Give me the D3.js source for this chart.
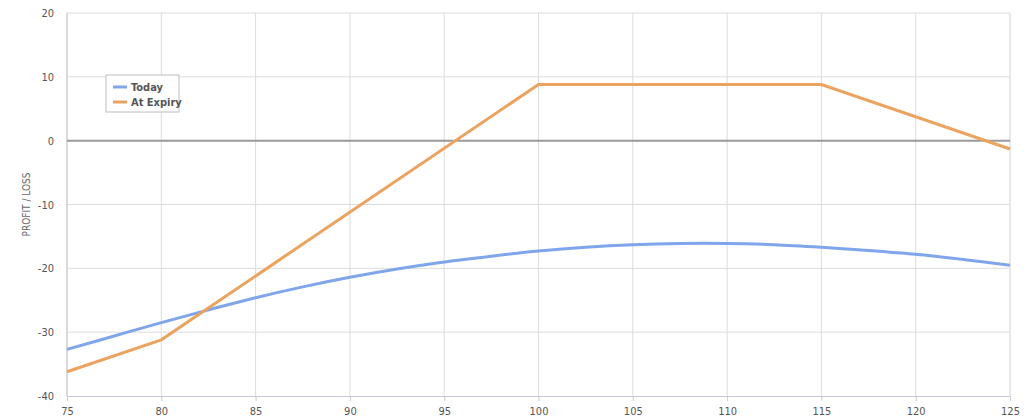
<!DOCTYPE html>
<html><head><meta charset="utf-8">
<script src="https://cdn.jsdelivr.net/npm/d3@7"></script>
<style>
html,body{margin:0;padding:0;background:#fff;}
text{font-family:"DejaVu Sans Condensed","Liberation Sans Narrow",Roboto,sans-serif;}
</style></head>
<body><svg id="c" width="1024" height="420"></svg>
<script>
const xTicks = [75, 80, 85, 90, 95, 100, 105, 110, 115, 120, 125];
const yTicks = [-40, -30, -20, -10, 0, 10, 20];
const todayX = [75, 77.5, 80, 82.5, 85, 87.5, 90, 92.5, 95, 97.5, 100, 102.5, 105, 107.5, 110, 112.5, 115, 117.5, 120, 122.5, 125];
const todayY = [-32.7, -30.6, -28.5, -26.5, -24.6, -22.9, -21.4, -20.1, -19.0, -18.1, -17.3, -16.7, -16.3, -16.1, -16.1, -16.3, -16.7, -17.2, -17.8, -18.6, -19.5];
const expiryX = [75, 80, 100, 115, 125];
const expiryY = [-36.2, -31.2, 8.8, 8.8, -1.3];
const seriesNames = ["Today", "At Expiry"];
const colors = ["#7fa6ea", "#eba35f"];

const svg = d3.select("#c");
const m = {l:67, r:1010, t:13, b:396};
const x = d3.scaleLinear().domain([75,125]).range([m.l, m.r]);
const y = d3.scaleLinear().domain([-40,20]).range([m.b, m.t]);

// vertical grid
svg.append("g").selectAll("line").data(xTicks).join("line")
  .attr("x1", d=>x(d)).attr("x2", d=>x(d)).attr("y1", m.t).attr("y2", m.b)
  .attr("stroke", "#dcdcdc").attr("stroke-width", 1);
// horizontal grid
svg.append("g").selectAll("line").data(yTicks.filter(d=>d!==0 && d!==-40)).join("line")
  .attr("x1", m.l).attr("x2", m.r).attr("y1", d=>y(d)).attr("y2", d=>y(d))
  .attr("stroke", "#dcdcdc").attr("stroke-width", 1);
// left axis line
svg.append("line").attr("x1", m.l).attr("x2", m.l).attr("y1", m.t).attr("y2", m.b)
  .attr("stroke", "#d9d9d9").attr("stroke-width", 2);
// right edge
svg.append("line").attr("x1", m.r).attr("x2", m.r).attr("y1", m.t).attr("y2", m.b)
  .attr("stroke", "#e3e3e3").attr("stroke-width", 1);

// x axis
const xa = svg.append("g").attr("transform", `translate(0,${m.b})`)
  .call(d3.axisBottom(x).tickValues(xTicks).tickFormat(d=>String(d)).tickSize(5).tickSizeOuter(0).tickPadding(6));
xa.select(".domain").attr("stroke", "#c5cad6");
xa.selectAll(".tick line").attr("stroke", "#c5cad6");
xa.selectAll("text").attr("fill", "#555").attr("font-size", 11);

// y axis
const ya = svg.append("g").attr("transform", `translate(${m.l},0)`)
  .call(d3.axisLeft(y).tickValues(yTicks).tickFormat(d=>String(d)).tickSize(0).tickPadding(13));
ya.select(".domain").remove();
ya.selectAll("text").attr("fill", "#555").attr("font-size", 11);

// zero line
svg.append("line").attr("x1", m.l).attr("x2", m.r).attr("y1", y(0)).attr("y2", y(0))
  .attr("stroke", "#9a9a9a").attr("stroke-width", 2);

// y label
svg.append("text").attr("transform", `translate(30,${(m.t+m.b)/2}) rotate(-90)`)
  .attr("text-anchor", "middle").attr("font-size", 10).attr("fill", "#666").text("PROFIT / LOSS");

// lines
const today = todayX.map((d,i)=>[d, todayY[i]]);
const expiry = expiryX.map((d,i)=>[d, expiryY[i]]);
svg.append("path").datum(today)
  .attr("d", d3.line().x(d=>x(d[0])).y(d=>y(d[1])).curve(d3.curveCatmullRom))
  .attr("fill", "none").attr("stroke", colors[0]).attr("stroke-width", 3);
svg.append("path").datum(expiry)
  .attr("d", d3.line().x(d=>x(d[0])).y(d=>y(d[1])))
  .attr("fill", "none").attr("stroke", colors[1]).attr("stroke-width", 3);

// legend
const lg = svg.append("g").attr("transform", "translate(106,75)");
lg.append("rect").attr("width", 73).attr("height", 37).attr("fill", "#fff")
  .attr("stroke", "#bdbdbd").attr("stroke-width", 1);
seriesNames.forEach((n,i)=>{
  const yy = 12 + i*15;
  lg.append("line").attr("x1", 7).attr("x2", 21).attr("y1", yy).attr("y2", yy)
    .attr("stroke", colors[i]).attr("stroke-width", 3);
  lg.append("text").attr("x", 25).attr("y", yy).attr("dy", "0.35em")
    .attr("font-size", 11).attr("font-weight", "bold").attr("fill", "#555").text(n);
});
</script></body></html>
